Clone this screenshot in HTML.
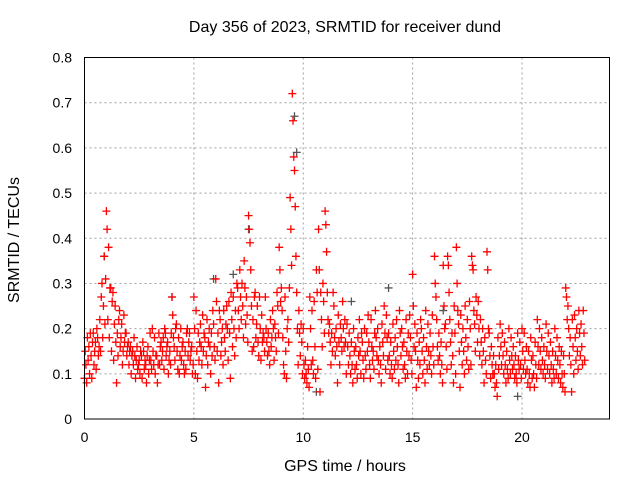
<!DOCTYPE html>
<html><head><meta charset="utf-8"><style>
body{margin:0;background:#fff}
svg{display:block;font-family:"Liberation Sans",sans-serif}
</style></head><body>
<svg id="chart" width="640" height="480">
<text x="345" y="32" font-size="16" text-anchor="middle">Day 356 of 2023, SRMTID for receiver dund</text>
<text x="345" y="471" font-size="16" text-anchor="middle">GPS time / hours</text>
<text x="19" y="240" font-size="16" text-anchor="middle" transform="rotate(-90 19 240)">SRMTID / TECUs</text>
<g id="grid"></g>
<g id="ticks"></g>
<g id="gray"></g>
<g id="red"></g>
<rect x="84.5" y="57.5" width="525" height="361.5" fill="none" stroke="#000"/>
</svg>
<script>
const xTicks=[0,5,10,15,20];
const yTicks=[0,0.1,0.2,0.3,0.4,0.5,0.6,0.7,0.8];
const yTickLabels=["0","0.1","0.2","0.3","0.4","0.5","0.6","0.7","0.8"];
const redValues=[
.09,.15,.12,.08,.18,.13,.16,.10,.19,.14,.09,.17,.19,.12,.15,.17,.11,.20,.18,.14,.16,.22,.15,.27,.30,.18,.25,.36,.21,.31,
.46,.42,.22,.38,.18,.29,.29,.15,.26,.28,.13,.21,.25,.17,.08,.19,.14,.22,.24,.16,.18,.21,.12,.15,.23,.17,.19,.19,.14,.16,
.17,.12,.15,.16,.10,.14,.15,.12,.18,.14,.09,.13,.16,.11,.12,.13,.10,.15,.14,.09,.17,.15,.11,.13,.12,.08,.14,.16,.10,.13,
.19,.13,.11,.20,.15,.12,.18,.10,.14,.14,.08,.12,.19,.12,.16,.17,.13,.15,.18,.11,.20,.19,.14,.16,.17,.10,.13,.15,.12,.19,
.27,.23,.18,.16,.13,.20,.21,.15,.11,.18,.10,.14,.20,.13,.16,.17,.12,.10,.15,.11,.19,.20,.14,.17,.19,.13,.15,.16,.10,.12,
.27,.20,.10,.24,.15,.09,.19,.13,.17,.21,.16,.12,.23,.15,.19,.18,.07,.14,.22,.12,.17,.20,.16,.10,.19,.14,.24,.21,.16,.13,
.31,.26,.15,.19,.08,.24,.22,.14,.17,.20,.12,.24,.18,.15,.21,.25,.20,.13,.26,.19,.09,.28,.22,.16,.27,.20,.14,.24,.18,.30,
.29,.24,.20,.33,.27,.22,.30,.25,.18,.35,.29,.21,.27,.23,.17,.45,.42,.39,.33,.25,.15,.22,.16,.27,.28,.18,.21,.25,.17,.14,
.27,.20,.13,.23,.17,.19,.18,.15,.27,.20,.17,.14,.19,.15,.12,.22,.16,.18,.24,.20,.13,.21,.18,.15,.28,.25,.19,.38,.33,.26,
.29,.24,.18,.12,.10,.27,.15,.09,.20,.22,.17,.29,.49,.42,.34,.72,.66,.58,.55,.47,.36,.28,.20,.12,.24,.19,.14,.21,.17,.10,
.20,.12,.09,.13,.10,.08,.16,.11,.07,.27,.20,.12,.24,.13,.10,.26,.16,.09,.33,.28,.11,.42,.33,.06,.28,.22,.16,.30,.26,.19,
.46,.43,.37,.28,.22,.19,.21,.17,.12,.19,.15,.28,.25,.18,.14,.20,.16,.08,.23,.17,.12,.21,.18,.15,.26,.20,.16,.22,.17,.10,
.21,.16,.12,.19,.14,.10,.17,.12,.08,.20,.15,.11,.16,.12,.09,.18,.14,.22,.15,.10,.19,.17,.13,.09,.20,.14,.11,.19,.15,.23,
.17,.12,.09,.22,.16,.13,.15,.11,.19,.24,.18,.14,.20,.13,.10,.16,.12,.08,.21,.17,.14,.25,.19,.11,.23,.18,.13,.19,.14,.10,
.17,.12,.09,.21,.15,.11,.18,.13,.22,.16,.12,.08,.24,.19,.14,.20,.16,.11,.17,.12,.09,.22,.15,.10,.19,.14,.23,.18,.13,.10,
.32,.25,.16,.21,.15,.07,.19,.13,.09,.17,.12,.22,.20,.15,.10,.18,.13,.08,.24,.16,.11,.21,.15,.12,.19,.14,.10,.23,.16,.12,
.36,.30,.27,.22,.16,.13,.19,.14,.10,.17,.12,.08,.34,.25,.20,.21,.16,.11,.36,.34,.28,.22,.17,.12,.19,.14,.08,.25,.19,.10,
.38,.30,.24,.21,.15,.07,.23,.17,.12,.20,.15,.10,.25,.18,.13,.22,.16,.11,.26,.20,.12,.36,.34,.33,.24,.21,.15,.27,.23,.17,
.26,.20,.14,.22,.17,.12,.20,.15,.08,.18,.13,.10,.37,.33,.20,.19,.14,.09,.16,.12,.10,.14,.10,.07,.12,.08,.05,.18,.11,.14,
.21,.16,.12,.19,.14,.10,.17,.12,.08,.15,.11,.09,.20,.13,.10,.18,.14,.11,.16,.12,.09,.14,.10,.08,.19,.13,.11,.17,.12,.09,
.20,.15,.11,.19,.13,.10,.16,.11,.08,.15,.10,.07,.18,.13,.09,.14,.10,.07,.17,.12,.09,.22,.16,.12,.20,.15,.11,.18,.13,.10,
.16,.12,.09,.21,.15,.11,.19,.14,.10,.17,.12,.08,.15,.11,.09,.20,.14,.10,.18,.13,.09,.16,.12,.08,.15,.10,.07,.14,.10,.06,
.29,.27,.22,.25,.20,.14,.18,.12,.06,.22,.16,.10,.23,.18,.13,.20,.15,.11,.24,.19,.14,.21,.16,.12,.24,.19,.13
];
const grayHours=[9.6,9.7,7.5,6.8,10.6,19.8,13.9,16.4,4.0,0.9,5.9,12.2];
const grayValues=[.67,.59,.42,.32,.06,.05,.29,.24,.27,.36,.31,.26];
const X0=84.5,X1=609.5,Y0=419,Y1=57.5;
const xs=v=>X0+(v/24)*(X1-X0);
const ys=v=>Y0-(v/0.8)*(Y0-Y1);
const NS="http://www.w3.org/2000/svg";
function mk(tag,attrs,parent){const e=document.createElementNS(NS,tag);for(const k in attrs)e.setAttribute(k,attrs[k]);parent.appendChild(e);return e;}
const grid=document.getElementById('grid'),ticks=document.getElementById('ticks');
xTicks.forEach(t=>{const x=xs(t);
 if(t>0){const l=mk('line',{x1:x,x2:x,y1:Y1,y2:Y0,stroke:'#a0a0a0','stroke-dasharray':'2,3'},grid);
 
 }
 const tx=mk('text',{x:x,y:442,'font-size':14,'text-anchor':'middle'},ticks);tx.textContent=String(t);
 
 
});
yTicks.forEach((t,i)=>{const y=ys(t);
 if(t>0&&t<0.8){const l=mk('line',{x1:X0,x2:X1,y1:y,y2:y,stroke:'#a0a0a0','stroke-dasharray':'2,3'},grid);
 
 }
 const tx=mk('text',{x:72,y:y+5,'font-size':14,'text-anchor':'end'},ticks);tx.textContent=yTickLabels[i];
 
 
});
function cross(g,h,v,color,name){const x=xs(h),y=ys(v);
 const p=mk('path',{d:`M${x-4},${y}h8M${x},${y-4}v8`,stroke:color,'stroke-width':1.3,fill:'none'},g);
 
 }
const gg=document.getElementById('gray');
grayHours.forEach((h,i)=>cross(gg,h,grayValues[i],'#555','gray-point'));
const rg=document.getElementById('red');
redValues.forEach((v,i)=>{const step=Math.floor(i/3),k=i%3;cross(rg,step*0.1+k*0.033,v,'#f00','red-point');});
</script>
</body></html>
